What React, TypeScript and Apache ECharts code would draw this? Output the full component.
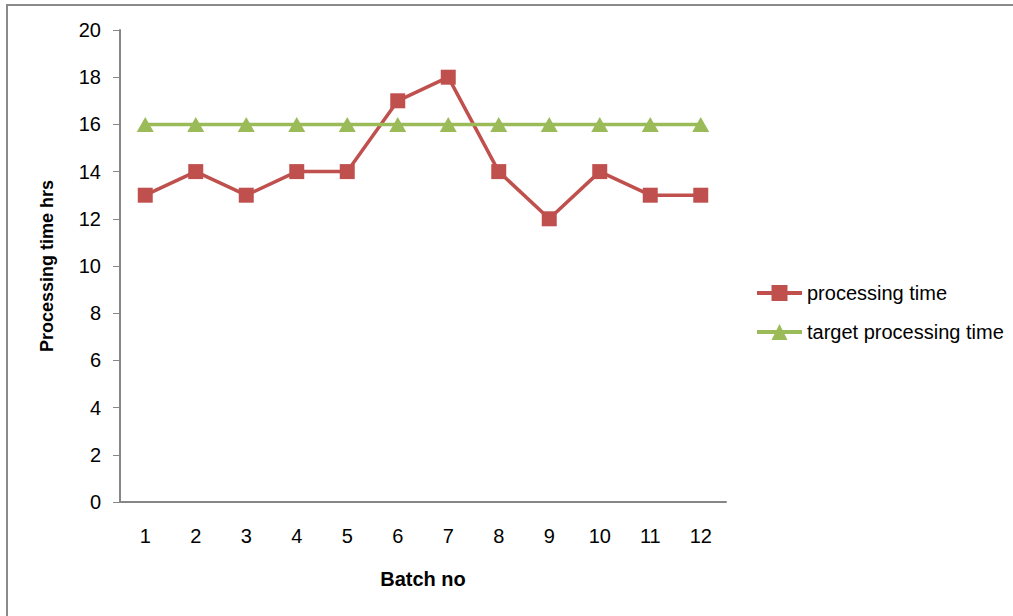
import React, { useEffect, useRef } from "react";
import * as echarts from "echarts";

const batches = ["1", "2", "3", "4", "5", "6", "7", "8", "9", "10", "11", "12"];
const processingTime = [13, 14, 13, 14, 14, 17, 18, 14, 12, 14, 13, 13];
const targetTime = [16, 16, 16, 16, 16, 16, 16, 16, 16, 16, 16, 16];

const FONT = "'Liberation Sans', Arial, sans-serif";

export default function App() {
  const ref = useRef<HTMLDivElement>(null);
  useEffect(() => {
    if (!ref.current) return;
    const chart = echarts.init(ref.current, undefined, { renderer: "svg" });
    chart.setOption({
      animation: false,
      backgroundColor: "#ffffff",
      textStyle: { fontFamily: FONT },
      graphic: [
        {
          type: "rect",
          shape: { x: 7, y: 5, width: 1020, height: 700 },
          style: { fill: "none", stroke: "#8a8a8a", lineWidth: 2 },
          silent: true,
        },
      ],
      grid: { left: 120, top: 30, width: 606, height: 472 },
      legend: {
        orient: "vertical",
        left: 755,
        top: 283,
        padding: 0,
        itemWidth: 45,
        itemHeight: 20,
        itemGap: 19,
        lineStyle: { width: 4 },
        textStyle: { fontFamily: FONT, fontSize: 20, color: "#000" },
        data: [
          { name: "processing time" },
          { name: "target processing time" },
        ],
      },
      xAxis: {
        type: "category",
        data: batches,
        boundaryGap: true,
        name: "Batch no",
        nameLocation: "middle",
        nameGap: 67,
        nameTextStyle: { fontFamily: FONT, fontSize: 20, fontWeight: "bold", color: "#000" },
        axisLine: { show: true, lineStyle: { color: "#868686", width: 2 } },
        axisTick: { show: false },
        axisLabel: { fontFamily: FONT, fontSize: 20, color: "#000", margin: 24 },
        splitLine: { show: false },
      },
      yAxis: {
        type: "value",
        min: 0,
        max: 20,
        interval: 2,
        name: "Processing time hrs",
        nameLocation: "middle",
        nameRotate: 90,
        nameGap: 64,
        nameTextStyle: { fontFamily: FONT, fontSize: 18, fontWeight: "bold", color: "#000" },
        axisLine: { show: true, lineStyle: { color: "#868686", width: 2 } },
        axisTick: { show: true, length: 7, lineStyle: { color: "#868686", width: 1 } },
        axisLabel: { fontFamily: FONT, fontSize: 20, color: "#000", margin: 19 },
        splitLine: { show: false },
      },
      series: [
        {
          name: "processing time",
          type: "line",
          data: processingTime,
          symbol: "rect",
          symbolSize: 15,
          lineStyle: { color: "#C0504D", width: 3.5 },
          itemStyle: { color: "#C0504D" },
        },
        {
          name: "target processing time",
          type: "line",
          data: targetTime,
          symbol: "triangle",
          symbolSize: [17, 15],
          lineStyle: { color: "#9BBB59", width: 3.5 },
          itemStyle: { color: "#9BBB59" },
        },
      ],
    });
    return () => chart.dispose();
  }, []);
  return (
    <div
      ref={ref}
      style={{ position: "absolute", left: 0, top: 0, width: 1013, height: 616 }}
    />
  );
}
